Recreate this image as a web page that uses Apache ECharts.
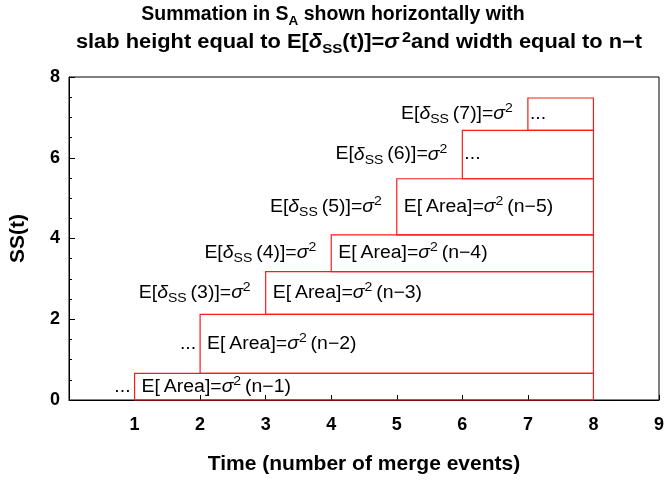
<!DOCTYPE html>
<html>
<head>
<meta charset="utf-8">
<script src="https://cdn.jsdelivr.net/npm/echarts@6/dist/echarts.min.js"></script>
<style>
  html, body { margin: 0; padding: 0; background: #fff; }
  #chart { width: 667px; height: 480px; }
</style>
</head>
<body>
<div id="chart"></div>
<script>
// 合并时刻 t 及每块 slab 的上下边界
const mergeTimes = [1, 2, 3, 4, 5, 6, 7];
const slabBottoms = [0, 0.66, 2.12, 3.18, 4.09, 5.48, 6.68];
const slabTops = [0.66, 2.12, 3.18, 4.09, 5.48, 6.68, 7.48];
const slabEnd = 8;

// slab 左侧文字、内部文字
const deltaLabels = ["...", "...", "E[δSS(3)]=σ²", "E[δSS(4)]=σ²", "E[δSS(5)]=σ²", "E[δSS(6)]=σ²", "E[δSS(7)]=σ²"];
const areaLabels = ["E[Area]=σ²(n−1)", "E[Area]=σ²(n−2)", "E[Area]=σ²(n−3)", "E[Area]=σ²(n−4)", "E[Area]=σ²(n−5)", "...", "..."];

const xTicks = [0, 1, 2, 3, 4, 5, 6, 7, 8, 9];
const yTicks = [0, 2, 4, 6, 8];

const FONT = "'Liberation Sans', Arial, Helvetica, sans-serif";
const SLAB_COLOR = "#ff1a1a";
const LABEL_SIZE = 18;
const LABEL_STRETCH = 1.08;

// 把可读文字转成 rich 标记
const toRich = (s) =>
  s
    .replace("E[Area]", "E[\u2009Area]")
    .replace("δSS", "{it|δ}{sub|SS}\u2009")
    .replace("σ²(", "{it|σ}{sup|2}\u2009(")
    .replace("σ²", "{it|σ}{sup|2}");

const labelRich = {
  it: { fontStyle: "italic", fontSize: LABEL_SIZE, fontFamily: FONT, fill: "#000", lineHeight: 24 },
  sub: { fontSize: 13, fontFamily: FONT, fill: "#000", verticalAlign: "bottom", lineHeight: 13 },
  sup: { fontSize: 13, fontFamily: FONT, fill: "#000", verticalAlign: "top", lineHeight: 13 },
};

const makeTitleRich = (size) => ({
  b: { fontWeight: "bold", fontSize: size, fontFamily: FONT, fill: "#000", lineHeight: 26 },
  sub: { fontWeight: "bold", fontSize: size - 6, fontFamily: FONT, fill: "#000", verticalAlign: "bottom", lineHeight: 14 },
  it: { fontWeight: "bold", fontStyle: "italic", fontSize: size, fontFamily: FONT, fill: "#000", lineHeight: 26 },
  sup: { fontWeight: "bold", fontSize: size - 5, fontFamily: FONT, fill: "#000", verticalAlign: "top", lineHeight: 15 },
});

const slabData = mergeTimes.map((t, i) => [t, slabEnd, slabBottoms[i], slabTops[i]]);
const midData = mergeTimes.map((t, i) => [t, (slabBottoms[i] + slabTops[i]) / 2, i]);

const labelItem = (api, text, side) => {
  const p = api.coord([api.value(0), api.value(1)]);
  const dots = text === "...";
  const gap = side === "left" ? (dots ? 4 : 15) : dots ? 2 : 7;
  return {
    type: "text",
    x: side === "left" ? p[0] - gap : p[0] + gap,
    y: p[1],
    scaleX: LABEL_STRETCH,
    style: {
      text: dots ? text : toRich(text),
      rich: labelRich,
      fontSize: LABEL_SIZE,
      fontFamily: FONT,
      fill: "#000",
      lineHeight: 24,
      align: side === "left" ? "right" : "left",
      verticalAlign: "middle",
    },
  };
};

const chart = echarts.init(document.getElementById("chart"), null, { renderer: "canvas" });

const axisNameStyle = { fontWeight: "bold", fontSize: 21, fontFamily: FONT, color: "#000" };
const tickLabelStyle = { fontWeight: "bold", fontSize: 18, fontFamily: FONT, color: "#000" };

const option = {
  animation: false,
  backgroundColor: "#fff",
  graphic: [
    {
      type: "text",
      x: 333,
      y: 15,
      style: {
        text: "{b|Summation in S}{sub|A}{b| shown horizontally with}",
        rich: makeTitleRich(19.5),
        align: "center",
        verticalAlign: "middle",
      },
    },
    {
      type: "text",
      x: 359,
      y: 43,
      scaleX: 1.12,
      style: {
        text: "{b|slab height equal to E[}{it|δ}{sub|SS}{b|(t)]=}{it|σ}{sup|\u20092}{b|and width equal to n−t}",
        rich: makeTitleRich(19.5),
        align: "center",
        verticalAlign: "middle",
      },
    },
  ],
  grid: { left: 65, right: 3, top: 77, bottom: 80, show: true, borderColor: "#000", borderWidth: 1 },
  xAxis: {
    type: "value",
    min: xTicks[0],
    max: xTicks[xTicks.length - 1],
    interval: 1,
    name: "Time (number of merge events)",
    nameLocation: "middle",
    nameGap: 54,
    nameTextStyle: axisNameStyle,
    axisLine: { onZero: false, lineStyle: { color: "#000", width: 1 } },
    axisTick: { inside: true, length: 5, lineStyle: { color: "#000" } },
    axisLabel: { margin: 16, ...tickLabelStyle, formatter: (v) => (v === 0 ? "" : String(v)) },
    splitLine: { show: false },
  },
  yAxis: {
    type: "value",
    min: yTicks[0],
    max: yTicks[yTicks.length - 1],
    interval: 2,
    name: "SS(t)",
    nameLocation: "middle",
    nameGap: 40,
    nameTextStyle: axisNameStyle,
    axisLine: { onZero: false, lineStyle: { color: "#000", width: 1 } },
    axisTick: { inside: true, length: 6, lineStyle: { color: "#000" } },
    minorTick: { show: true, splitNumber: 4, length: 3, lineStyle: { color: "#000" } },
    axisLabel: { margin: 9, ...tickLabelStyle },
    splitLine: { show: false },
  },
  series: [
    {
      name: "slabs",
      type: "custom",
      data: slabData,
      renderItem: (params, api) => {
        const p0 = api.coord([api.value(0), api.value(3)]);
        const p1 = api.coord([api.value(1), api.value(2)]);
        return {
          type: "rect",
          shape: { x: p0[0], y: p0[1], width: p1[0] - p0[0], height: p1[1] - p0[1] },
          style: { fill: "none", stroke: SLAB_COLOR, lineWidth: 1.2 },
        };
      },
      z: 2,
    },
    {
      name: "deltaLabels",
      type: "custom",
      data: midData,
      renderItem: (params, api) => labelItem(api, deltaLabels[api.value(2)], "left"),
      z: 3,
    },
    {
      name: "areaLabels",
      type: "custom",
      data: midData,
      renderItem: (params, api) => labelItem(api, areaLabels[api.value(2)], "right"),
      z: 3,
    },
  ],
};

chart.setOption(option);
</script>
</body>
</html>
